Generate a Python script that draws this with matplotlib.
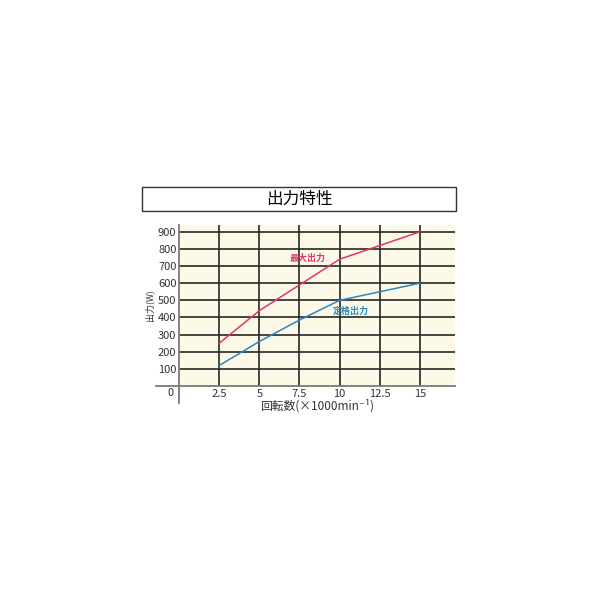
import matplotlib
matplotlib.use("Agg")
import matplotlib.pyplot as plt
from matplotlib.patches import Rectangle

plt.rcParams['font.family'] = ['Noto Sans CJK JP', 'DejaVu Sans']

# data
speed = [2.5, 5, 7.5, 10, 12.5, 15]          # x1000 min^-1
max_output = [250, 440, 590, 740, 820, 900]  # W
rated_output = [120, 260, 385, 500, 550, 600]
x_ticks = [2.5, 5, 7.5, 10, 12.5, 15]
x_tick_labels = ['2.5', '5', '7.5', '10', '12.5', '15']
y_ticks = [100, 200, 300, 400, 500, 600, 700, 800, 900]

red = '#e3336b'
blue = '#2b87c4'
cream = '#fcfae6'

fig = plt.figure(figsize=(6, 6), dpi=100)

# title box
fig.patches.append(Rectangle((142 / 600, 1 - 211 / 600), (456 - 142) / 600, 24 / 600,
                             transform=fig.transFigure, facecolor='white',
                             edgecolor='#333333', linewidth=1.0))
fig.text(299 / 600, 1 - 199 / 600, '出力特性', ha='center', va='center', fontsize=12)

ax = fig.add_axes([179.2 / 600, 1 - 386 / 600, (455 - 179.2) / 600, (386 - 225) / 600])
ax.set_facecolor(cream)
ax.set_xlim(0, 17.2)
ax.set_ylim(0, 940)

for s in ax.spines.values():
    s.set_visible(False)

# grid
for x in x_ticks:
    ax.axvline(x, color='#262626', linewidth=1.2, zorder=1)
for y in y_ticks:
    ax.axhline(y, color='#262626', linewidth=1.2, zorder=1)

# axis lines that stick out past the origin
ax.plot([-1.43, 17.2], [0, 0], color='#7a7a7a', linewidth=1.3, clip_on=False, zorder=3)
ax.plot([0, 0], [-100, 940], color='#7a7a7a', linewidth=1.3, clip_on=False, zorder=3)

ax.plot(speed, max_output, color=red, linewidth=1.1, zorder=4)
ax.plot(speed, rated_output, color=blue, linewidth=1.1, zorder=4)

ax.text(8.0, 745, '最大出力', color=red, fontsize=6.5, ha='center', va='center',
        fontweight='bold')
ax.text(10.7, 435, '定格出力', color=blue, fontsize=6.5, ha='center', va='center',
        fontweight='bold')

ax.set_xticks(x_ticks)
ax.set_xticklabels(x_tick_labels)
ax.set_yticks(y_ticks)
ax.tick_params(length=0, labelsize=8, colors='#333333', pad=2)
ax.tick_params(axis='x', pad=2)
ax.text(-0.35, -38, '0', fontsize=8, color='#333333', ha='right', va='center')

ax.set_xlabel('回転数(×1000min⁻¹)', fontsize=8.5, color='#333333', labelpad=0)
ax.set_ylabel('出力(W)', fontsize=6.5, color='#333333', labelpad=3)

fig.savefig('out.png', dpi=100, facecolor='white')
